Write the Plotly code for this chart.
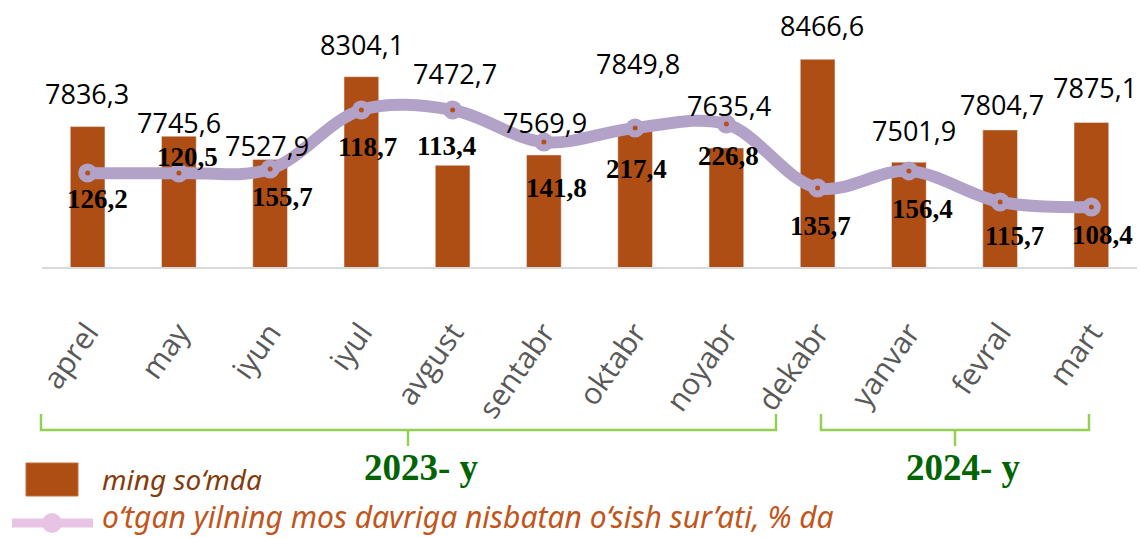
import plotly.graph_objects as go

months = ["aprel", "may", "iyun", "iyul", "avgust", "sentabr",
          "oktabr", "noyabr", "dekabr", "yanvar", "fevral", "mart"]
salary = [7836.3, 7745.6, 7527.9, 8304.1, 7472.7, 7569.9,
          7849.8, 7635.4, 8466.6, 7501.9, 7804.7, 7875.1]
growth_labels = ["126,2", "120,5", "155,7", "118,7", "113,4", "141,8",
                 "217,4", "226,8", "135,7", "156,4", "115,7", "108,4"]
# height of the growth curve on its own (hidden) axis
growth_level = [36.6, 36.6, 38.1, 61.1, 61.1, 48.6,
                54.1, 55.6, 30.7, 37.4, 25.3, 23.3]
year_groups = ["2023- y", "2024- y"]

BAR = "#AE4E14"
LINE = "#B3A2C7"

# plot area in pixels (used for the decorations below the axis)
L, T, W, H = 42, 10, 1095, 257


def px(x):
    return (x - L) / W


def py(y):
    return (T + H - y) / H


# manual label offsets (pixels), as in the original Excel layout
bar_lift = [33, 14, 14, 32, 92, 32, 62, 43, 34, 32, 25, 35]
bar_dx = [-1, 0, -3, 1, 2, 1, 3, 3, 4, 5, 2, 4]
line_drop = [26, -16, 28, 37, 36, 46, 41, 32, 38, 38, 34, 28]
line_dx = [10, 9, 12, 6, -6, 13, 1, 2, 3, 14, 14, 11]

fig = go.Figure()
fig.add_trace(go.Bar(x=months, y=salary, marker_color=BAR, width=0.38,
                     hoverinfo="x+y", showlegend=False))
fig.add_trace(go.Scatter(
    x=months, y=growth_level, yaxis="y2", mode="lines+markers",
    line=dict(color=LINE, width=12, shape="spline", smoothing=1.0),
    marker=dict(size=19, color=LINE), hoverinfo="skip", showlegend=False))
fig.add_trace(go.Scatter(
    x=months, y=growth_level, yaxis="y2", mode="markers",
    marker=dict(size=5, color="#B5501A"), hoverinfo="skip", showlegend=False))

ann = []
for i, m in enumerate(months):
    ann.append(dict(x=m, y=salary[i], xref="x", yref="y", showarrow=False,
                    text=f"{salary[i]:.1f}".replace(".", ","),
                    yanchor="middle", yshift=bar_lift[i], xshift=bar_dx[i],
                    font=dict(family="Open Sans", size=27, color="#000000")))
    ann.append(dict(x=m, y=growth_level[i], xref="x", yref="y2", showarrow=False,
                    text=f"<b>{growth_labels[i]}</b>",
                    yanchor="middle", yshift=-line_drop[i], xshift=line_dx[i],
                    font=dict(family="Liberation Serif", size=27, color="#000000")))

# year captions
for label, cx in zip(year_groups, [421, 963]):
    ann.append(dict(x=px(cx), y=py(467), xref="paper", yref="paper",
                    xanchor="center", yanchor="middle",
                    showarrow=False, text=f"<b>{label}</b>",
                    font=dict(family="Liberation Serif", size=37, color="#006400")))

# legend texts
ann.append(dict(x=px(100), y=py(479), xref="paper", yref="paper",
                xanchor="left", yanchor="middle",
                showarrow=False, text="<i>ming so‘mda</i>",
                font=dict(family="Noto Sans", size=28, color="#843C0C")))
ann.append(dict(x=px(100), y=py(516), xref="paper", yref="paper",
                xanchor="left", yanchor="middle",
                showarrow=False,
                text="<i>o‘tgan yilning mos davriga nisbatan o‘sish sur’ati, % da</i>",
                font=dict(family="Noto Sans", size=30, color="#C0561C")))

shapes = []
GREEN = "#92D050"
for x0, x1, xc in [(41, 776, 408), (821, 1089, 955)]:
    shapes.append(dict(type="path", xref="paper", yref="paper",
                       path=f"M {px(x0)},{py(414)} L {px(x0)},{py(430)} "
                            f"L {px(x1)},{py(430)} L {px(x1)},{py(414)}",
                       line=dict(color=GREEN, width=2.5)))
    shapes.append(dict(type="line", xref="paper", yref="paper",
                       x0=px(xc), x1=px(xc), y0=py(430), y1=py(446),
                       line=dict(color=GREEN, width=2.5)))

shapes.append(dict(type="rect", xref="paper", yref="paper",
                   x0=px(26), x1=px(78), y0=py(463), y1=py(496),
                   fillcolor=BAR, line=dict(color="#C46A3A", width=1)))
shapes.append(dict(type="line", xref="paper", yref="paper",
                   x0=px(12), x1=px(93), y0=py(523), y1=py(523),
                   line=dict(color="#E8C4E4", width=9)))
shapes.append(dict(type="circle", xref="paper", yref="paper",
                   x0=px(42), x1=px(62), y0=py(513), y1=py(533),
                   fillcolor="#E8C4E4", line=dict(width=0)))

fig.update_layout(
    width=1140, height=538,
    margin=dict(l=L, r=1140 - L - W, t=T, b=538 - T - H),
    plot_bgcolor="white", paper_bgcolor="white",
    font=dict(family="Open Sans"),
    bargap=0.6,
    xaxis=dict(range=[-0.5, 11.5], showline=True, linecolor="#D9D9D9", linewidth=2,
               showgrid=False, ticks="", tickangle=-55, automargin=False,
               tickfont=dict(size=30, color="#595959"),
               ticklabelstandoff=34),
    yaxis=dict(range=[6520, 8929], visible=False, showgrid=False, automargin=False),
    yaxis2=dict(range=[0, 100], overlaying="y", visible=False, showgrid=False,
                automargin=False),
    annotations=ann,
    shapes=shapes,
)

fig.write_html("out.html", config={"displayModeBar": False},
               post_script="document.body.style.margin='0px';")
